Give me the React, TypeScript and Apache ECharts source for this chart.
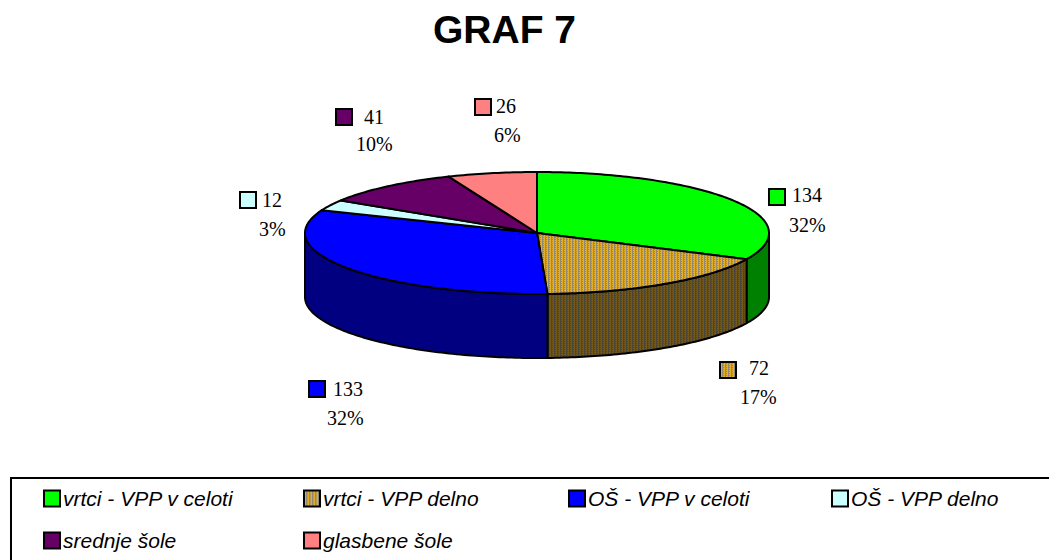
import React, { useEffect, useRef } from "react";
import * as echarts from "echarts";

const categories = [
  "vrtci - VPP v celoti",
  "vrtci - VPP delno",
  "OŠ - VPP v celoti",
  "OŠ - VPP delno",
  "srednje šole",
  "glasbene šole",
];
const values = [134, 72, 133, 12, 41, 26];
const percentLabels = ["32%", "17%", "32%", "3%", "10%", "6%"];
const topColors = ["#00ff00", "tan", "#0000ff", "#ccffff", "#660066", "#ff8080"];
const wallColors = ["#008000", "tanDark", "#000080", "#669999", "#330033", "#804040"];

// marker left/top, value text left/middle, percent text left/middle
const markerAt = [[769, 189], [720, 362], [309, 381], [240, 192], [336, 109], [475, 99]];
const valueAt = [[792, 195], [749, 368], [333, 389], [262, 200], [364, 117], [496, 106]];
const percentAt = [[789, 225], [740, 397], [327, 418], [259, 229], [356, 144], [494, 135]];

const legendColumns = [
  { left: 43, names: [categories[0], categories[4]] },
  { left: 303, names: [categories[1], categories[5]] },
  { left: 568, names: [categories[2]] },
  { left: 831, names: [categories[3]] },
];

const CX = 537;
const CY = 233;
const RX = 232;
const RY = 61;
const DEPTH = 64;

function makePattern(main: string, dim: string) {
  const c = document.createElement("canvas");
  c.width = 3;
  c.height = 2;
  const g = c.getContext("2d")!;
  g.fillStyle = main;
  g.fillRect(0, 0, 3, 2);
  g.fillStyle = dim;
  g.fillRect(2, 0, 1, 2);
  g.fillRect(0, 1, 1, 1);
  return { image: c, repeat: "repeat" } as any;
}

function rim(deg: number, drop = 0) {
  const a = (deg * Math.PI) / 180;
  return [CX + RX * Math.sin(a), CY - RY * Math.cos(a) + drop];
}

function arcPoints(from: number, to: number, drop = 0) {
  const pts: number[][] = [];
  const n = Math.max(2, Math.ceil(Math.abs(to - from)));
  for (let k = 0; k <= n; k++) pts.push(rim(from + ((to - from) * k) / n, drop));
  return pts;
}

export default function App() {
  const ref = useRef<HTMLDivElement>(null);

  useEffect(() => {
    document.body.style.margin = "0";
    document.body.style.background = "#fff";
    const chart = echarts.init(ref.current!, undefined, { renderer: "svg" });

    const tan = makePattern("#e2ae2c", "#8f8a78");
    const tanDark = makePattern("#71571a", "#47453c");
    const fills = (c: string) => (c === "tan" ? tan : c === "tanDark" ? tanDark : c);

    const total = values.reduce((a, b) => a + b, 0);
    const startOf = (i: number) =>
      (values.slice(0, i).reduce((a, b) => a + b, 0) / total) * 360;

    const line = { stroke: "#000", lineWidth: 2, lineJoin: "round" };

    const series = categories.map((name, i) => ({
      type: "custom",
      name,
      coordinateSystem: "none",
      z: 2,
      silent: true,
      itemStyle: { color: fills(topColors[i]), borderColor: "#000", borderWidth: 2 },
      data: [[values[i]]],
      renderItem: (_p: any, api: any) => {
        const v = api.value(0);
        const a0 = startOf(i);
        const a1 = a0 + (v / total) * 360;
        const children: any[] = [];
        const w0 = Math.max(a0, 90);
        const w1 = Math.min(a1, 270);
        if (w1 > w0) {
          children.push({
            type: "polygon",
            shape: { points: [...arcPoints(w0, w1), ...arcPoints(w1, w0, DEPTH)] },
            style: { ...line, fill: fills(wallColors[i]) },
          });
        }
        children.push({
          type: "polygon",
          shape: { points: [[CX, CY], ...arcPoints(a0, a1)] },
          style: { ...line, fill: fills(topColors[i]) },
        });
        children.push({
          type: "rect",
          shape: { x: markerAt[i][0], y: markerAt[i][1], width: 16, height: 16 },
          style: { ...line, lineJoin: "miter", fill: fills(topColors[i]) },
        });
        children.push({
          type: "text",
          style: {
            text: String(v),
            x: valueAt[i][0],
            y: valueAt[i][1],
            verticalAlign: "middle",
            font: "20px 'Liberation Serif'",
            fill: "#000",
          },
        });
        children.push({
          type: "text",
          style: {
            text: percentLabels[i],
            x: percentAt[i][0],
            y: percentAt[i][1],
            verticalAlign: "middle",
            font: "20px 'Liberation Serif'",
            fill: "#000",
          },
        });
        return { type: "group", children };
      },
    }));

    chart.setOption({
      animation: false,
      backgroundColor: "#fff",
      title: {
        text: "GRAF 7",
        left: 433,
        top: 10,
        padding: 0,
        textStyle: {
          fontFamily: "'Liberation Sans'",
          fontSize: 39,
          fontWeight: "bold",
          color: "#000",
        },
      },
      legend: legendColumns.map((col) => ({
        orient: "vertical",
        left: col.left,
        top: 488,
        padding: 0,
        itemGap: 21,
        itemWidth: 16,
        itemHeight: 16,
        icon: "rect",
        selectedMode: false,
        data: col.names,
        textStyle: {
          fontFamily: "'Liberation Sans'",
          fontStyle: "italic",
          fontSize: 21,
          color: "#000",
          padding: [0, 0, 0, -2],
        },
      })),
      graphic: [
        {
          type: "rect",
          silent: true,
          z: 0,
          shape: { x: 11, y: 478, width: 1060, height: 110 },
          style: { fill: "#fff", stroke: "#000", lineWidth: 2 },
        },
      ],
      series,
    });
    return () => chart.dispose();
  }, []);

  return (
    <div
      ref={ref}
      style={{ position: "absolute", left: 0, top: 0, width: 1049, height: 560 }}
    />
  );
}
